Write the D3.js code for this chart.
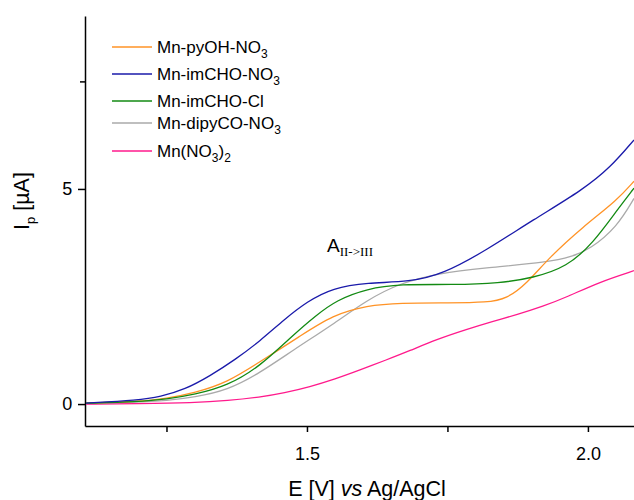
<!DOCTYPE html>
<html><head><meta charset="utf-8">
<script src="https://cdn.jsdelivr.net/npm/d3@7"></script>
<style>body{margin:0;background:#fff;}svg{display:block;font-family:"Liberation Sans",Arial,sans-serif;}</style>
</head><body>
<svg id="c" width="634" height="500"></svg>
<script>
const seriesNames = ["Mn-pyOH-NO3","Mn-imCHO-NO3","Mn-imCHO-Cl","Mn-dipyCO-NO3","Mn(NO3)2"];
const seriesColors = ["#ff9326","#1a1aaa","#138a13","#aaaaaa","#ff1a8c"];
const xTicksMajor = [1.5, 2.0];
const xTicksMinor = [1.25, 1.75];
const yTicksMajor = [0, 5];
const yTicksMinor = [7.5];

const pyOH = [[1.105,0.02],[1.2,0.06],[1.25,0.13],[1.3,0.26],[1.358,0.5],[1.416,0.98],[1.488,1.58],[1.546,2.07],[1.607,2.29],[1.665,2.35],[1.754,2.35],[1.82,2.36],[1.856,2.45],[1.891,2.8],[1.932,3.42],[1.991,4.12],[2.052,4.74],[2.082,5.18]];
const imCHONO3 = [[1.105,0.02],[1.2,0.09],[1.239,0.17],[1.283,0.34],[1.327,0.65],[1.372,1.03],[1.416,1.46],[1.46,1.97],[1.5,2.38],[1.546,2.7],[1.607,2.82],[1.683,2.84],[1.742,3.02],[1.82,3.58],[1.902,4.28],[1.991,4.98],[2.04,5.5],[2.082,6.14]];
const imCHOCl = [[1.105,0.02],[1.2,0.05],[1.25,0.11],[1.3,0.22],[1.358,0.42],[1.416,0.87],[1.475,1.6],[1.515,2.05],[1.553,2.42],[1.607,2.68],[1.665,2.79],[1.76,2.77],[1.843,2.81],[1.902,2.93],[1.963,3.19],[2.009,3.74],[2.052,4.51],[2.082,5.02]];
const dipyCO = [[1.105,0.02],[1.2,0.04],[1.25,0.08],[1.3,0.16],[1.358,0.32],[1.416,0.72],[1.475,1.25],[1.546,1.85],[1.607,2.42],[1.665,2.81],[1.737,3.05],[1.813,3.16],[1.932,3.3],[1.97,3.42],[2.004,3.6],[2.052,4.12],[2.082,4.78]];
const MnNO3 = [[1.105,0.0],[1.2,0.01],[1.297,0.03],[1.36,0.08],[1.416,0.16],[1.46,0.26],[1.505,0.4],[1.55,0.58],[1.594,0.79],[1.64,1.02],[1.683,1.24],[1.73,1.5],[1.785,1.74],[1.83,1.92],[1.874,2.08],[1.92,2.27],[1.963,2.49],[2.021,2.84],[2.082,3.1]];
const allSeries = [pyOH, imCHONO3, imCHOCl, dipyCO, MnNO3];

const svg = d3.select("#c");
const x = d3.scaleLinear().domain([1.105, 2.082]).range([85, 634]);
const y = d3.scaleLinear().domain([-0.51, 9.02]).range([426, 16]);

// axes
const xAxis = svg.append("g").attr("transform","translate(0,426)");
xAxis.call(d3.axisBottom(x).tickValues(xTicksMajor).tickFormat(d3.format(".1f")).tickSize(6).tickSizeOuter(0));
xAxis.append("g").call(d3.axisBottom(x).tickValues(xTicksMinor).tickFormat("").tickSize(6).tickSizeOuter(0)).select(".domain").remove();
xAxis.selectAll("text").attr("font-size",18).attr("font-family","Liberation Sans, Arial, sans-serif").attr("fill","#000").attr("dy","1.4em");
const yAxis = svg.append("g").attr("transform","translate(85,0)");
yAxis.call(d3.axisLeft(y).tickValues(yTicksMajor).tickFormat(d3.format("d")).tickSize(7).tickSizeOuter(0));
yAxis.append("g").call(d3.axisLeft(y).tickValues(yTicksMinor).tickFormat("").tickSize(5).tickSizeOuter(0)).select(".domain").remove();
yAxis.selectAll("text").attr("font-size",18).attr("font-family","Liberation Sans, Arial, sans-serif").attr("fill","#000").attr("dx","-0.15em");
svg.selectAll(".domain, .tick line").attr("stroke","#000").attr("stroke-width",1.5);

// lines
const line = d3.line().x(d=>x(d[0])).y(d=>y(d[1])).curve(d3.curveBasis);
svg.append("clipPath").attr("id","cl").append("rect").attr("x",86).attr("y",16).attr("width",548).attr("height",409);
const g = svg.append("g").attr("clip-path","url(#cl)");
[4,3,0,2,1].forEach(i=>{
  g.append("path").datum(allSeries[i]).attr("d",line).attr("fill","none").attr("stroke",seriesColors[i]).attr("stroke-width",1.3);
});

// legend
const legY = [47,74,101,123,151];
const legLabels = [["Mn-pyOH-NO","3",""],["Mn-imCHO-NO","3",""],["Mn-imCHO-Cl","",""],["Mn-dipyCO-NO","3",""],["Mn(NO","3",")"]];
legLabels.forEach((lab,i)=>{
  svg.append("line").attr("x1",112).attr("x2",152).attr("y1",legY[i]).attr("y2",legY[i]).attr("stroke",seriesColors[i]).attr("stroke-width",1.5);
  const t = svg.append("text").attr("x",157).attr("y",legY[i]+6).attr("font-size",17).attr("fill","#000");
  t.append("tspan").text(lab[0]);
  if(lab[1]) t.append("tspan").attr("font-size",12).attr("dy",5).text(lab[1]);
  if(lab[2]){ t.append("tspan").attr("dy",-5).text(lab[2]); t.append("tspan").attr("font-size",12).attr("dy",5).text("2"); }
});

// annotation
const ann = svg.append("text").attr("x",327).attr("y",252).attr("font-size",19).attr("fill","#000");
ann.append("tspan").text("A");
ann.append("tspan").attr("font-family","Liberation Serif, Times New Roman, serif").attr("font-size",13).attr("dy",4).text("II->III");

// axis titles
const xt = svg.append("text").attr("x",367).attr("y",496).attr("text-anchor","middle").attr("font-size",21.5).attr("fill","#000");
xt.append("tspan").text("E [V] ");
xt.append("tspan").attr("font-style","italic").text("vs");
xt.append("tspan").text(" Ag/AgCl");
const yt = svg.append("text").attr("transform","translate(29,201) rotate(-90)").attr("text-anchor","middle").attr("font-size",21.5).attr("fill","#000");
yt.append("tspan").text("I");
yt.append("tspan").attr("font-size",13).attr("dy",6).text("p");
yt.append("tspan").attr("dy",-6).text(" [µA]");
</script>
</body></html>
